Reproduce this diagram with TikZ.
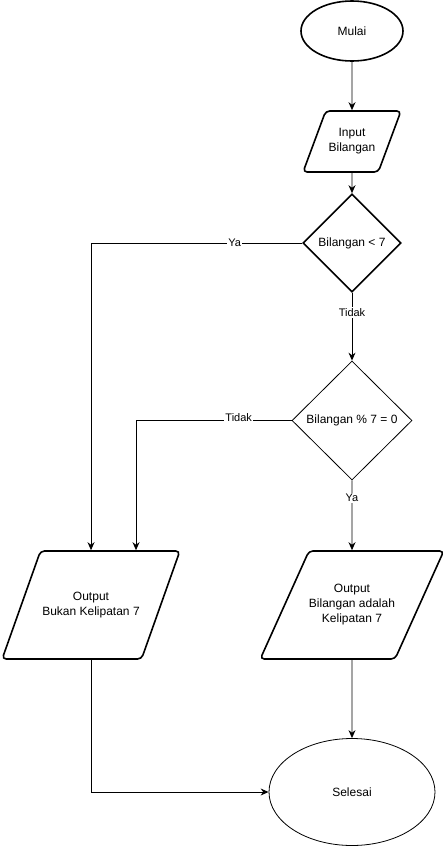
\documentclass[tikz,border=0pt]{standalone}
\usepackage{fontspec}
\setmainfont{Liberation Sans}
\usetikzlibrary{shapes.geometric, arrows.meta, positioning}

\begin{document}
\begin{tikzpicture}[x=1pt, y=-1pt, >={Stealth[length=8pt,width=7pt]},
        every node/.style={font=\fontsize{12}{15}\selectfont, align=center},
        terminal/.style={ellipse, draw, inner sep=0pt},
        io/.style={trapezium, draw, line width=1.6pt, rounded corners=4pt, inner sep=0pt,
            trapezium stretches=true},
        decision/.style={diamond, draw, inner sep=0pt},
        lbl/.style={fill=white, inner sep=1pt, font=\fontsize{11}{13}\selectfont},
        line/.style={draw, line width=0.9pt, ->}]
    \useasboundingbox (0,0) rectangle (444,847);

    \node[terminal, line width=1.6pt, minimum width=102pt, minimum height=60pt] (mulai) at (352,31) {Mulai};
    \node[io, trapezium left angle=52, trapezium right angle=128, minimum width=98pt, minimum height=61pt]
        (input) at (352,141.5) {Input\\Bilangan};
    \node[decision, line width=1.6pt, minimum width=98pt, minimum height=98pt] (cek7) at (352,243) {Bilangan < 7};
    \node[decision, line width=0.8pt, minimum width=120pt, minimum height=119pt] (cekmod) at (352,420.5) {Bilangan \% 7 = 0};
    \node[io, trapezium left angle=35, trapezium right angle=145, minimum width=178pt, minimum height=108pt]
        (bukan) at (91,605) {Output\\Bukan Kelipatan 7};
    \node[io, trapezium left angle=40, trapezium right angle=140, minimum width=176pt, minimum height=108pt]
        (kelipatan) at (352,605) {Output\\Bilangan adalah\\Kelipatan 7};
    \node[terminal, line width=0.8pt, minimum width=166pt, minimum height=107pt] (selesai) at (352,792) {Selesai};

    \path[line] (mulai) -- (input);
    \path[line] (input) -- (cek7);
    \path[line] (cek7) -- node[lbl, pos=0.29] {Tidak} (cekmod);
    \path[line] (cekmod) -- node[lbl, pos=0.25] {Ya} (kelipatan);
    \path[line] (cek7.west) -| node[lbl, pos=0.16] {Ya} (bukan.north);
    \path[line] (cekmod.west) -| node[lbl, pos=0.17, yshift=3pt] {Tidak} ([xshift=45pt]bukan.north);
    \path[line] (bukan.south) |- (selesai.west);
    \path[line] (kelipatan) -- (selesai);
\end{tikzpicture}
\end{document}
